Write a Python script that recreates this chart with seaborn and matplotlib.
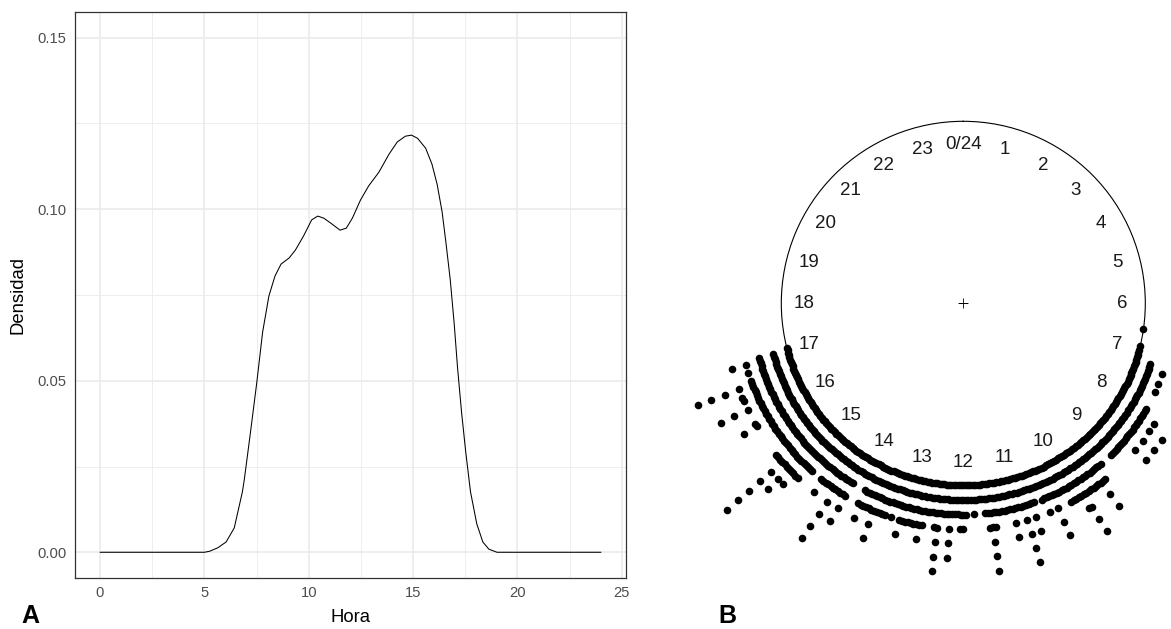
import numpy as np
import pandas as pd
import matplotlib
matplotlib.use("Agg")
import matplotlib.pyplot as plt
import seaborn as sns

# ---------------- data: panel A (density curve) ----------------
hora = [0.0, 5.0, 5.25, 5.64, 6.04, 6.43, 6.82, 6.91, 7.21, 7.5, 7.79, 8.09, 8.38, 8.67,
        9.06, 9.36, 9.75, 10.14, 10.43, 10.72, 11.11, 11.5, 11.8, 12.09, 12.48, 12.87,
        13.36, 13.85, 14.24, 14.63, 14.92, 15.21, 15.6, 15.9, 16.15, 16.39, 16.58, 16.78,
        16.97, 17.13, 17.32, 17.52, 17.75, 18.05, 18.34, 18.63, 19.02, 24.0]
densidad = [0.0, 0.0, 0.0003, 0.0013, 0.0030, 0.0071, 0.0176, 0.0211, 0.0351, 0.0490,
            0.0642, 0.0747, 0.0805, 0.0840, 0.0858, 0.0881, 0.0922, 0.0969, 0.0980, 0.0974,
            0.0957, 0.0939, 0.0945, 0.0974, 0.1027, 0.1068, 0.1108, 0.1161, 0.1196, 0.1213,
            0.1216, 0.1207, 0.1178, 0.1132, 0.1073, 0.0992, 0.0899, 0.0794, 0.0665, 0.0537,
            0.0409, 0.0293, 0.0176, 0.0083, 0.0030, 0.0009, 0.0, 0.0]

x_ticks = [0, 5, 10, 15, 20, 25]
y_ticks = [0.00, 0.05, 0.10, 0.15]
y_tick_labels = ["0.00", "0.05", "0.10", "0.15"]

# ---------------- data: panel B (stacked point counts per 3-minute bin) ----------------
bin_inicio = 6.5      # hour of the first bin
bin_ancho = 0.05      # bin width in hours
cuentas_06 = [0, 1, 0, 0, 0, 0, 0, 0, 1, 0]                                   # 6.50-6.95
cuentas_07 = [1, 1, 1, 1, 2, 2, 3, 2, 2, 2, 3, 2, 2, 3, 2, 2, 2, 2, 2, 2]
cuentas_08 = [3, 3, 3, 4, 3, 3, 5, 3, 3, 3, 5, 3, 3, 3, 5, 3, 3, 3, 3, 3]
cuentas_09 = [3, 3, 2, 2, 2, 2, 3, 3, 4, 4, 6, 4, 4, 4, 4, 4, 4, 7, 5, 4]
cuentas_10 = [4, 4, 4, 3, 3, 3, 3, 6, 3, 3, 4, 3, 2, 2, 3, 5, 3, 3, 7, 3]
cuentas_11 = [3, 3, 5, 3, 3, 3, 3, 3, 3, 4, 7, 4, 3, 2, 2, 2, 3, 2, 2, 3]
cuentas_12 = [4, 4, 3, 3, 3, 6, 3, 3, 3, 7, 4, 3, 3, 3, 4, 5, 4, 4, 4, 4]
cuentas_13 = [4, 4, 5, 3, 3, 4, 3, 4, 4, 4, 4, 6, 4, 4, 4, 4, 5, 4, 2, 2]
cuentas_14 = [2, 2, 6, 4, 4, 4, 8, 4, 4, 4, 4, 5, 4, 3, 3, 3, 4, 4, 5, 5]
cuentas_15 = [6, 5, 7, 5, 5, 10, 5, 5, 5, 4, 4, 4, 4, 4, 4, 4, 4, 4, 4, 6]
cuentas_16 = [5, 4, 4, 4, 4, 7, 4, 4, 5, 5, 4, 4, 8, 4, 3, 3, 4, 3, 3, 5]
cuentas_17 = [3, 1]                                                            # 17.00-17.05

hour_labels = ["0/24"] + [str(h) for h in range(1, 24)]
hour_label_pos = list(range(24))

# ---------------- figure ----------------
sns.set_theme(style="white")
plt.rcParams["font.family"] = ["Liberation Sans", "DejaVu Sans"]

W, H = 1171, 629
fig = plt.figure(figsize=(W / 100, H / 100), dpi=100)
fig.patch.set_facecolor("white")

# ----- panel A -----
l, r, t, b = 75, 626, 12, 578
ax1 = fig.add_axes([l / W, 1 - b / H, (r - l) / W, (b - t) / H])
ax1.set_facecolor("white")
ax1.set_xlim(-1.2, 25.2)
ax1.set_ylim(-0.0075, 0.1575)
ax1.set_xticks(x_ticks)
ax1.set_yticks(y_ticks)
ax1.set_yticklabels(y_tick_labels)
ax1.set_xticks([2.5, 7.5, 12.5, 17.5, 22.5], minor=True)
ax1.set_yticks([0.025, 0.075, 0.125], minor=True)
ax1.grid(which="major", color="#EBEBEB", linewidth=1.2)
ax1.grid(which="minor", color="#EBEBEB", linewidth=0.6)
ax1.set_axisbelow(True)
for s in ax1.spines.values():
    s.set_color("#333333")
    s.set_linewidth(0.9)
ax1.tick_params(which="major", length=3.5, width=0.8, color="#333333",
                labelcolor="#4D4D4D", labelsize=10.6, pad=2.5)
ax1.tick_params(which="minor", length=0)

dens = pd.DataFrame({"Hora": hora, "Densidad": densidad})
sns.lineplot(data=dens, x="Hora", y="Densidad", ax=ax1, color="black",
             linewidth=0.75, estimator=None, sort=False)
ax1.set_xlabel("Hora", fontsize=13.3, color="black")
ax1.set_ylabel("Densidad", fontsize=13.3, color="black")
ax1.xaxis.set_label_coords(0.5, -(617 - b) / (b - t))
ax1.xaxis.label.set_verticalalignment("center")
ax1.yaxis.set_label_coords((18 - l) / (r - l), 0.5)
ax1.yaxis.label.set_verticalalignment("center")

# ----- panel B -----
cx, cy, R = 963.3, 303.3, 182.0
ax2 = fig.add_axes([(cx - R) / W, 1 - (cy + R) / H, 2 * R / W, 2 * R / H],
                   projection="polar")
ax2.set_theta_zero_location("N")
ax2.set_theta_direction(-1)

cuentas = (cuentas_06 + cuentas_07 + cuentas_08 + cuentas_09 + cuentas_10 + cuentas_11
           + cuentas_12 + cuentas_13 + cuentas_14 + cuentas_15 + cuentas_16 + cuentas_17)
sep = 0.0804
rows = []
for i, c in enumerate(cuentas):
    h = bin_inicio + i * bin_ancho
    for k in range(c):
        rows.append((h / 24 * 2 * np.pi, 1.0 + sep * k))
dots = pd.DataFrame(rows, columns=["theta", "radio"])
sns.scatterplot(data=dots, x="theta", y="radio", ax=ax2, s=30, color="black",
                linewidth=0, clip_on=False, zorder=3)

ax2.set_ylim(0, 1)
ax2.set_xticks([])
ax2.set_yticks([])
ax2.grid(False)
ax2.set_xlabel("")
ax2.set_ylabel("")
ax2.spines["polar"].set_color("black")
ax2.spines["polar"].set_linewidth(0.8)
ax2.set_facecolor("none")

for pos, lab in zip(hour_label_pos, hour_labels):
    ax2.text(pos / 24 * 2 * np.pi, 0.875, lab, ha="center", va="center",
             fontsize=13.5, color="#1a1a1a")
ax2.plot([0], [0], marker="+", ms=7, mew=0.6, color="black")

# ----- panel letters -----
fig.text(30.5 / W, 1 - 616 / H, "A", fontsize=18, fontweight="bold",
         ha="center", va="center", color="black")
fig.text(727 / W, 1 - 616 / H, "B", fontsize=18, fontweight="bold",
         ha="center", va="center", color="black")

fig.savefig("out.png", dpi=100, facecolor="white")
